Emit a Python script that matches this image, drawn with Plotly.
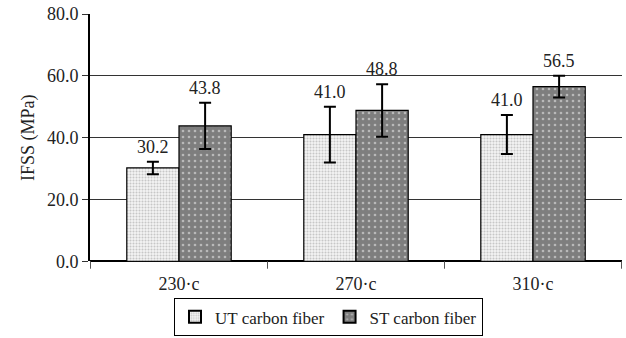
import plotly.graph_objects as go

categories = ["230·c", "270·c", "310·c"]
ut_values = [30.2, 41.0, 41.0]
ut_errors = [2.0, 9.0, 6.3]
st_values = [43.8, 48.8, 56.5]
st_errors = [7.5, 8.5, 3.5]
series_names = ["UT carbon fiber", "ST carbon fiber"]
y_ticks = [0, 20, 40, 60, 80]
y_tick_labels = ["0.0", "20.0", "40.0", "60.0", "80.0"]

font_family = "Liberation Serif"

fig = go.Figure()
fig.add_trace(go.Bar(
    x=categories, y=ut_values, name=series_names[0],
    marker=dict(color="#f2f2f2", line=dict(color="black", width=1.2),
                pattern=dict(shape=".", fgcolor="#9a9a9a", bgcolor="#f4f4f4", size=3, solidity=0.4)),
    error_y=dict(type="data", array=ut_errors, color="black", thickness=2, width=6),
))
fig.add_trace(go.Bar(
    x=categories, y=st_values, name=series_names[1],
    marker=dict(color="#808080", line=dict(color="black", width=1.2),
                pattern=dict(shape=".", fgcolor="#f4f4f4", bgcolor="#7e7e7e", size=6, solidity=0.15)),
    error_y=dict(type="data", array=st_errors, color="black", thickness=2, width=6),
))

annotations = []
for i, c in enumerate(categories):
    annotations.append(dict(x=c, y=ut_values[i] + ut_errors[i], text=f"{ut_values[i]:.1f}",
                            xref="x", yref="y", xshift=-26, yshift=15, showarrow=False,
                            font=dict(family=font_family, size=18, color="#222")))
    annotations.append(dict(x=c, y=st_values[i] + st_errors[i], text=f"{st_values[i]:.1f}",
                            xref="x", yref="y", xshift=26, yshift=15, showarrow=False,
                            font=dict(family=font_family, size=18, color="#222")))

fig.update_layout(
    width=626, height=338,
    margin=dict(l=90, r=4, t=13, b=76),
    paper_bgcolor="white", plot_bgcolor="white",
    barmode="group", bargap=0.41, bargroupgap=0,
    font=dict(family=font_family, size=18, color="#222"),
    annotations=annotations,
    showlegend=True,
    legend=dict(orientation="h", x=0.278, xref="container", xanchor="left",
                y=0.005, yref="container", yanchor="bottom",
                bordercolor="black", borderwidth=1, font=dict(size=17, family=font_family),
                itemwidth=30, tracegroupgap=0, itemsizing="constant", bgcolor="white"),
    yaxis=dict(range=[0, 80], tickvals=y_ticks, ticktext=y_tick_labels,
               showgrid=True, gridcolor="#333", gridwidth=1,
               showline=True, linecolor="black", linewidth=2,
               ticks="outside", ticklen=6, tickcolor="#333",
               zeroline=True, zerolinecolor="black", zerolinewidth=2,
               title=dict(text="IFSS (MPa)", font=dict(size=18, family=font_family), standoff=8),
               tickfont=dict(size=18, family=font_family)),
    xaxis=dict(showline=False, ticks="", tickfont=dict(size=18, family=font_family),
               ticklabelstandoff=10),
)

for k in range(len(categories) + 1):
    fig.add_shape(type="line", xref="x", yref="paper", x0=k - 0.5, x1=k - 0.5, y0=0, y1=-0.03,
                  line=dict(color="#555", width=1))

fig.write_html("out.html")
